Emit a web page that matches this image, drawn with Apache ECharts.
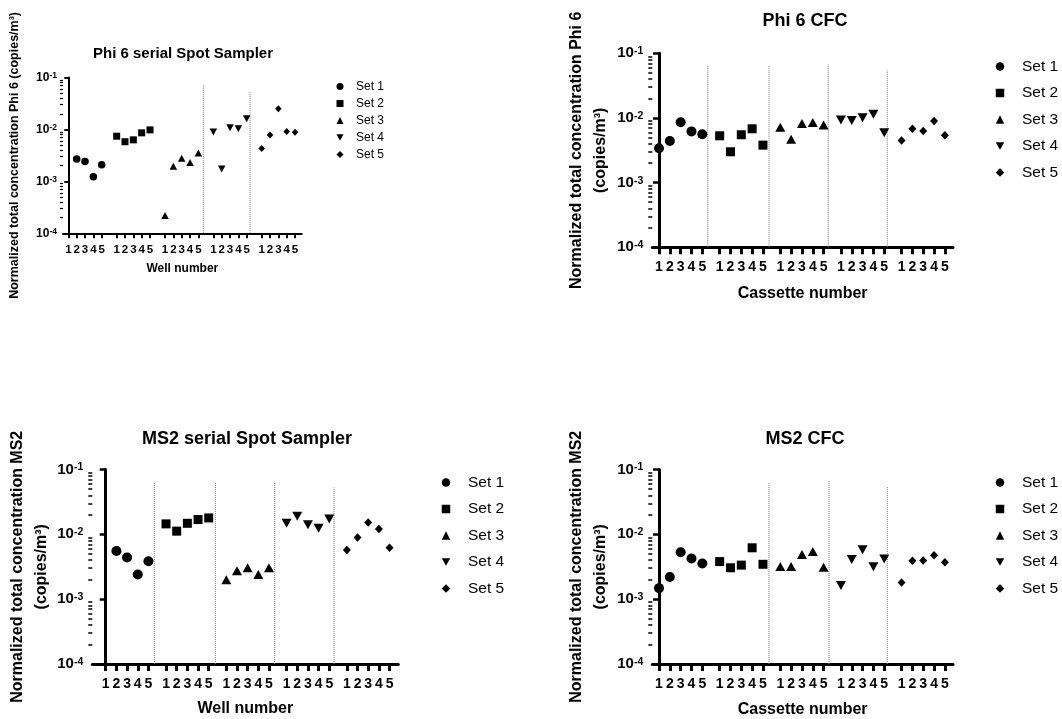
<!DOCTYPE html>
<html>
<head>
<meta charset="utf-8">
<script src="https://cdn.jsdelivr.net/npm/echarts@6/dist/echarts.min.js"></script>
<style>
html, body { margin: 0; padding: 0; background: #fff; }
#main { width: 1062px; height: 719px; }
</style>
</head>
<body>
<div id="main"></div>
<script>
// tick labels / categories
var wellLabels = ['1', '2', '3', '4', '5'];
var setNames = ['Set 1', 'Set 2', 'Set 3', 'Set 4', 'Set 5'];

// values per set (rows) and well/cassette (columns), copies/m3
var phi6Spot = [
  [null, 2.7e-3, 2.4e-3, 1.23e-3, 2.1e-3],
  [7.4e-3, 5.8e-3, 6.3e-3, 8.6e-3, 9.8e-3],
  [2.2e-4, 1.95e-3, 2.8e-3, 2.3e-3, 3.5e-3],
  [8.9e-3, 1.73e-3, 1.08e-2, 1.03e-2, 1.6e-2],
  [4.3e-3, 7.8e-3, 2.5e-2, 9.1e-3, 8.8e-3]
];
var phi6Cfc = [
  [3.4e-3, 4.4e-3, 8.6e-3, 6.2e-3, 5.6e-3],
  [5.3e-3, 3.0e-3, 5.5e-3, 6.8e-3, 3.8e-3],
  [7.2e-3, 4.7e-3, 8.2e-3, 8.5e-3, 7.8e-3],
  [9.3e-3, 9.1e-3, 1.01e-2, 1.14e-2, 5.9e-3],
  [4.5e-3, 6.8e-3, 6.3e-3, 9.0e-3, 5.4e-3]
];
var ms2Spot = [
  [null, 5.55e-3, 4.4e-3, 2.4e-3, 3.85e-3],
  [1.45e-2, 1.12e-2, 1.48e-2, 1.69e-2, 1.79e-2],
  [2.0e-3, 2.75e-3, 3.05e-3, 2.4e-3, 3.05e-3],
  [1.48e-2, 1.9e-2, 1.4e-2, 1.24e-2, 1.73e-2],
  [5.75e-3, 8.9e-3, 1.52e-2, 1.21e-2, 6.2e-3]
];
var ms2Cfc = [
  [1.48e-3, 2.2e-3, 5.3e-3, 4.25e-3, 3.55e-3],
  [3.8e-3, 3.05e-3, 3.35e-3, 6.2e-3, 3.45e-3],
  [3.2e-3, 3.2e-3, 4.9e-3, 5.45e-3, 3.1e-3],
  [1.63e-3, 4.1e-3, 5.8e-3, 3.15e-3, 4.15e-3],
  [1.8e-3, 3.9e-3, 3.95e-3, 4.75e-3, 3.7e-3]
];

var FONT = 'Liberation Sans, Arial, sans-serif';
var invTri = 'path://M0,0L10,0L5,9Z';
var symbols = ['circle', 'rect', 'triangle', invTri, 'diamond'];

var small = {
  title: 15, tick: 11.5, ytick: 12, sup: 8.5, name: 12.5, nameLH: 20, xname: 12, legend: 12, legH: 7, legPad: 7.5, legGap: 5,
  axisW: 2, xTickLen: 5, xTickW: 2, yTickLen: 4, yTickW: 2, minorLen: 3, minorW: 1.2,
  xLabelMargin: 11, yLabelMargin: 6,
  sizes: [[7.5, 7.5], [7, 7], [7.5, 7], [7.5, 7], [6.5, 7]]
};
var big = {
  title: 18, tick: 14, ytick: 15, sup: 10.5, name: 16, nameLH: 24, xname: 16, legend: 15.5, legH: 8.5, legPad: 12.75, legGap: 10.5,
  axisW: 3, xTickLen: 7, xTickW: 3, yTickLen: 6, yTickW: 2.5, minorLen: 4, minorW: 1.5,
  xLabelMargin: 13, yLabelMargin: 9,
  sizes: [[10, 10], [9, 9], [10, 9], [10, 9], [8, 8.5]]
};

var panels = [
  { data: phi6Spot, style: small, title: 'Phi 6 serial Spot Sampler', titleX: 183, titleY: 46.5,
    xName: 'Well number', yName: 'Normalized total concentration Phi 6 (copies/m³)', yNameGap: 38, xNameGap: 29,
    step: 5.8, left: 63, top: 77.5, width: 238.7, height: 155.8, xMin: -0.64, xMax: 28.0,
    seps: [16.2, 21.8], sepTops: [0.072, 0.054], legLeft: 336.5, legTop: 80.5 },
  { data: phi6Cfc, style: big, title: 'Phi 6 CFC', titleX: 805, titleY: 12,
    xName: 'Cassette number', yName: 'Normalized total concentration Phi 6\n(copies/m³)', yNameGap: 40, xNameGap: 38,
    step: 5.6, left: 652.3, top: 53.3, width: 300.7, height: 194, xMin: -0.62, xMax: 27.15,
    seps: [4.5, 10.16, 15.63, 21.08], sepTops: [0.066, 0.064, 0.067, 0.054], legLeft: 995.75, legTop: 58.5 },
  { data: ms2Spot, style: big, title: 'MS2 serial Spot Sampler', titleX: 247, titleY: 430,
    xName: 'Well number', yName: 'Normalized total concentration MS2\n(copies/m³)', yNameGap: 33, xNameGap: 37,
    step: 5.65, left: 92.3, top: 469.5, width: 306, height: 194.5, xMin: -1.26, xMax: 27.42,
    seps: [4.55, 10.27, 15.84, 21.4], sepTops: [0.065, 0.063, 0.065, 0.053], legLeft: 441.75, legTop: 474.5 },
  { data: ms2Cfc, style: big, title: 'MS2 CFC', titleX: 805, titleY: 430,
    xName: 'Cassette number', yName: 'Normalized total concentration MS2\n(copies/m³)', yNameGap: 40, xNameGap: 38,
    step: 5.6, left: 652.3, top: 469.5, width: 300.7, height: 194.5, xMin: -0.62, xMax: 27.15,
    seps: [10.16, 15.7, 21.08], sepTops: [0.064, 0.068, 0.054], legLeft: 995.75, legTop: 474.5 }
];

var minorTicks = [];
[-4, -3, -2].forEach(function (e) {
  for (var m = 2; m <= 9; m++) minorTicks.push(+(m * Math.pow(10, e)).toPrecision(3));
});

var chart = echarts.init(document.getElementById('main'));

var option = {
  animation: false,
  backgroundColor: '#fff',
  title: [], legend: [], grid: [], xAxis: [], yAxis: [], series: []
};

panels.forEach(function (P, k) {
  var S = P.style;
  var positions = [], labelMap = {};
  setNames.forEach(function (n, s) {
    wellLabels.forEach(function (w, i) {
      var p = +(s * P.step + i).toFixed(3);
      positions.push(p);
      labelMap[p.toFixed(3)] = w;
    });
  });

  option.title.push({
    text: P.title, left: P.titleX, top: P.titleY, textAlign: 'center', padding: 0,
    textStyle: { fontFamily: FONT, fontWeight: 'bold', fontSize: S.title, color: '#000' }
  });

  option.legend.push({
    data: setNames, orient: 'vertical', left: P.legLeft, top: P.legTop, padding: 0,
    itemWidth: S.legH, itemHeight: S.legH, itemGap: S.legGap, selectedMode: false,
    textStyle: { fontFamily: FONT, fontSize: S.legend, color: '#000', padding: [0, 0, 0, S.legPad] }
  });

  option.grid.push({ left: P.left, top: P.top, width: P.width, height: P.height, outerBoundsMode: 'none' });

  option.xAxis.push({
    type: 'value', gridIndex: k, min: P.xMin, max: P.xMax, position: 'bottom',
    axisLine: { onZero: false, lineStyle: { color: '#000', width: S.axisW } },
    axisTick: { show: true, customValues: positions, length: S.xTickLen, lineStyle: { color: '#000', width: S.xTickW } },
    axisLabel: {
      customValues: positions, margin: S.xLabelMargin,
      fontFamily: FONT, fontWeight: 'bold', fontSize: S.tick, color: '#000',
      formatter: function (v) { return labelMap[(+v).toFixed(3)] || ''; }
    },
    splitLine: { show: false },
    name: P.xName, nameLocation: 'middle', nameGap: P.xNameGap,
    nameTextStyle: { fontFamily: FONT, fontWeight: 'bold', fontSize: S.xname, color: '#000' }
  });

  // major log axis with labels
  option.yAxis.push({
    type: 'log', logBase: 10, gridIndex: k, min: 1e-4, max: 1e-1, position: 'left',
    axisLine: { show: true, lineStyle: { color: '#000', width: S.axisW } },
    axisTick: { show: true, length: S.yTickLen, lineStyle: { color: '#000', width: S.yTickW } },
    axisLabel: {
      margin: S.yLabelMargin,
      formatter: function (v) { return '{b|10}{s|' + Math.round(Math.log10(v)) + '}'; },
      rich: {
        b: { fontFamily: FONT, fontWeight: 'bold', fontSize: S.ytick, color: '#000' },
        s: { fontFamily: FONT, fontWeight: 'bold', fontSize: S.sup, color: '#000', verticalAlign: 'top' }
      }
    },
    splitLine: { show: false },
    name: P.yName, nameLocation: 'middle', nameGap: P.yNameGap,
    nameTextStyle: { fontFamily: FONT, fontWeight: 'bold', fontSize: S.name, color: '#000', lineHeight: S.nameLH }
  });
  // minor ticks on the same scale
  option.yAxis.push({
    type: 'log', logBase: 10, gridIndex: k, min: 1e-4, max: 1e-1, position: 'left',
    axisLine: { show: false },
    axisTick: { show: true, customValues: minorTicks, length: S.minorLen, lineStyle: { color: '#000', width: S.minorW } },
    axisLabel: { show: false },
    splitLine: { show: false }
  });

  P.seps.forEach(function (x, j) {
    option.series.push({
      type: 'line', xAxisIndex: k, yAxisIndex: 2 * k, silent: true, symbol: 'none', z: 1,
      data: [[x, 1e-4], [x, P.sepTops[j]]],
      lineStyle: { color: '#777', width: 1, type: [1, 1] }
    });
  });

  P.data.forEach(function (vals, s) {
    var pts = [];
    vals.forEach(function (v, i) {
      if (v != null) pts.push([+(s * P.step + i).toFixed(3), v]);
    });
    option.series.push({
      name: setNames[s], type: 'scatter', xAxisIndex: k, yAxisIndex: 2 * k,
      symbol: symbols[s], symbolSize: S.sizes[s], data: pts, z: 3,
      itemStyle: { color: '#000', opacity: 1 }
    });
  });
});

chart.setOption(option);
</script>
</body>
</html>
